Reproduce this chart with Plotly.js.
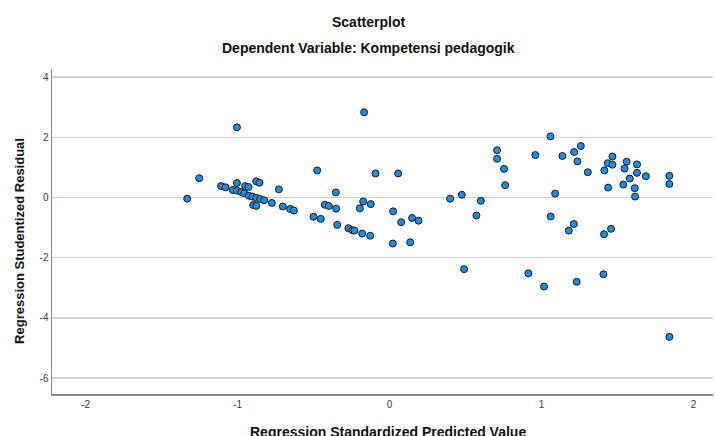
<!DOCTYPE html>
<html>
<head>
<meta charset="utf-8">
<script src="https://cdn.plot.ly/plotly-3.0.1.min.js"></script>
<style>html,body{margin:0;padding:0;background:#fff;}#chart{width:715px;height:436px;}</style>
</head>
<body>
<div id="chart"></div>
<script>
const chartTitle = "Scatterplot";
const chartSubtitle = "Dependent Variable: Kompetensi pedagogik";
const xAxisTitle = "Regression Standardized Predicted Value";
const yAxisTitle = "Regression Studentized Residual";

const predicted = [
  -1.005, -1.253, -1.332, -1.109, -1.080, -1.005, -0.951, -0.929, -0.878, -0.857,
  -1.032, -1.005, -0.977, -0.957, -0.926, -0.903, -0.878, -0.852, -0.826, -0.898,
  -0.878, -0.775, -0.729, -0.703, -0.655, -0.630, -0.477, -0.501, -0.453, -0.354,
  -0.426, -0.400, -0.352, -0.345, -0.271, -0.168, -0.245, -0.232, -0.181, -0.128,
  -0.196, -0.174, -0.124, -0.093, 0.056, 0.023, 0.076, 0.148, 0.190, 0.021,
  0.135, 0.398, 0.475, 0.600, 0.571, 0.490, 0.707, 0.707, 0.753, 0.760,
  0.959, 1.058, 1.089, 1.060, 1.137, 1.214, 1.258, 1.236, 1.304, 1.212,
  1.179, 1.413, 1.435, 1.466, 1.466, 1.438, 1.457, 1.411, 1.546, 1.560,
  1.580, 1.538, 1.628, 1.628, 1.613, 1.615, 1.686, 1.841, 1.841, 0.913,
  1.016, 1.231, 1.407, 1.841
];
const residual = [
  2.33, 0.64, -0.04, 0.38, 0.34, 0.48, 0.38, 0.35, 0.54, 0.49,
  0.25, 0.23, 0.18, 0.14, 0.06, 0.03, -0.01, -0.05, -0.09, -0.25,
  -0.28, -0.18, 0.27, -0.30, -0.38, -0.43, 0.90, -0.64, -0.71, 0.17,
  -0.24, -0.28, -0.37, -0.91, -1.02, 2.83, -1.09, -1.10, -1.20, -1.27,
  -0.36, -0.13, -0.22, 0.80, 0.80, -0.46, -0.82, -0.68, -0.77, -1.53,
  -1.49, -0.04, 0.09, -0.11, -0.60, -2.38, 1.57, 1.29, 0.95, 0.41,
  1.41, 2.03, 0.13, -0.63, 1.38, 1.51, 1.71, 1.20, 0.84, -0.88,
  -1.10, 0.90, 1.14, 1.36, 1.09, 0.33, -1.04, -1.22, 0.96, 1.19,
  0.63, 0.43, 1.10, 0.82, 0.31, 0.03, 0.71, 0.72, 0.45, -2.52,
  -2.96, -2.80, -2.55, -4.63
];
const xTicks = [-2, -1, 0, 1, 2];
const yTicks = [-6, -4, -2, 0, 2, 4];

const fontFamily = "Liberation Sans, Arial, sans-serif";

const trace = {
  x: predicted,
  y: residual,
  type: "scatter",
  mode: "markers",
  marker: {size: 7, color: "#1f8ce0", line: {color: "#1a1a1a", width: 1}},
  hoverinfo: "skip"
};

const layout = {
  width: 715,
  height: 436,
  margin: {l: 52, r: 2, t: 69, b: 42},
  paper_bgcolor: "#ffffff",
  plot_bgcolor: "#ffffff",
  showlegend: false,
  font: {family: fontFamily, color: "#222"},
  xaxis: {
    range: [-2.222, 2.128],
    tickvals: xTicks,
    ticktext: xTicks.map(String),
    showgrid: false,
    zeroline: false,
    showline: true,
    linecolor: "#8a8a8a",
    linewidth: 1.5,
    ticks: "",
    tickfont: {family: fontFamily, size: 10, color: "#3a3a3a"}
  },
  yaxis: {
    range: [-6.528, 4.269],
    tickvals: yTicks,
    ticktext: yTicks.map(String),
    showgrid: true,
    gridcolor: "#d3d3d3",
    gridwidth: 1.5,
    zeroline: false,
    showline: true,
    linecolor: "#8a8a8a",
    linewidth: 1.5,
    ticks: "",
    tickfont: {family: fontFamily, size: 10, color: "#3a3a3a"}
  },
  annotations: [
    {text: chartTitle, xref: "paper", yref: "paper", x: 0.479, y: 1.1446, xanchor: "center", yanchor: "middle", showarrow: false, font: {family: fontFamily, size: 14, color: "#111", weight: "bold"}},
    {text: chartSubtitle, xref: "paper", yref: "paper", x: 0.479, y: 1.0646, xanchor: "center", yanchor: "middle", showarrow: false, font: {family: fontFamily, size: 14, color: "#111", weight: "bold"}},
    {text: xAxisTitle, xref: "paper", yref: "paper", x: 0.509, y: -0.118, xanchor: "center", yanchor: "middle", showarrow: false, font: {family: fontFamily, size: 14, color: "#111", weight: "bold"}},
    {text: yAxisTitle, xref: "paper", yref: "paper", x: -0.0484, y: 0.471, xanchor: "center", yanchor: "middle", textangle: -90, showarrow: false, font: {family: fontFamily, size: 13, color: "#111", weight: "bold"}}
  ]
};

Plotly.newPlot("chart", [trace], layout, {displayModeBar: false, staticPlot: true});
</script>
</body>
</html>
